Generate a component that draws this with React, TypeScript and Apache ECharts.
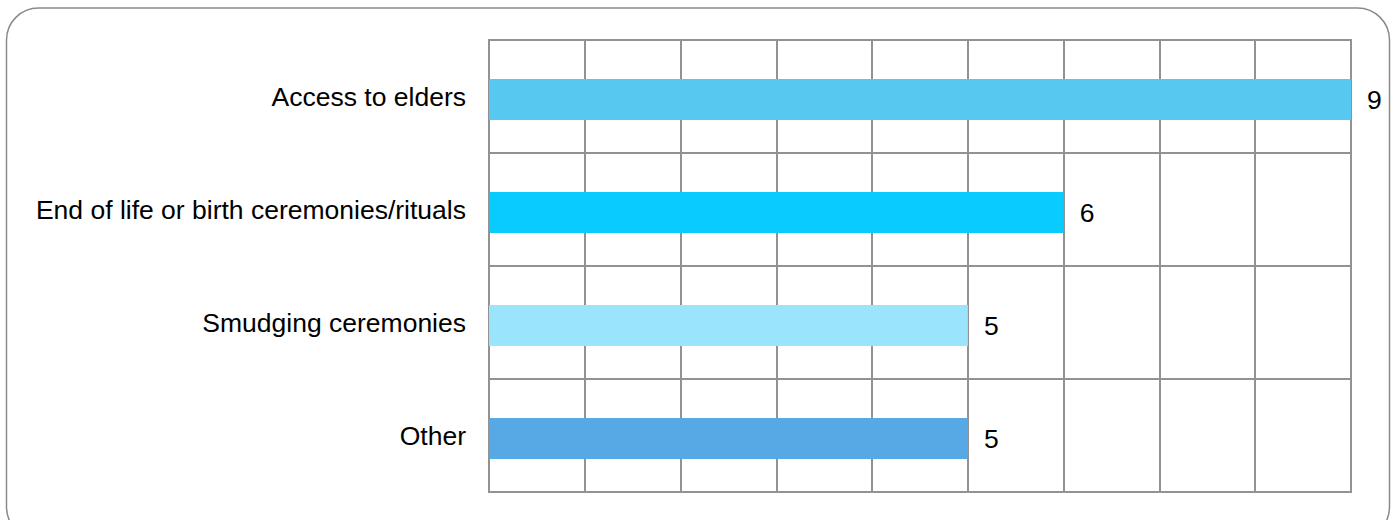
import React, { useEffect, useRef } from "react";
import * as echarts from "echarts";

const categories = [
  "Access to elders",
  "End of life or birth ceremonies/rituals",
  "Smudging ceremonies",
  "Other",
];
const values = [9, 6, 5, 5];
const barColors = ["#57C8EF", "#09CBFD", "#9AE4FD", "#56A9E4"];
const axisMin = 0;
const axisMax = 9;
const axisInterval = 1;

export default function App() {
  const ref = useRef<HTMLDivElement>(null);
  useEffect(() => {
    if (!ref.current) return;
    const chart = echarts.init(ref.current, null, { renderer: "svg" });
    const gridColor = "#929292";
    const font = "Liberation Sans, Arial, sans-serif";
    chart.setOption({
      animation: false,
      backgroundColor: "#ffffff",
      textStyle: { fontFamily: font },
      graphic: [
        {
          type: "rect",
          shape: { x: 6.5, y: 8, width: 1383, height: 531, r: 32 },
          style: { fill: "none", stroke: "#8a8a8a", lineWidth: 1.5 },
          z: 0,
        },
      ],
      grid: {
        left: 489,
        right: 1396 - 1351,
        top: 40,
        bottom: 520 - 492,
        show: true,
        borderColor: gridColor,
        borderWidth: 2,
        containLabel: false,
      },
      xAxis: {
        type: "value",
        min: axisMin,
        max: axisMax,
        interval: axisInterval,
        axisLabel: { show: false },
        axisTick: { show: false },
        axisLine: { show: false },
        splitLine: { show: true, lineStyle: { color: gridColor, width: 2 } },
      },
      yAxis: {
        type: "category",
        inverse: true,
        data: categories,
        axisTick: { show: false },
        axisLine: { show: true, lineStyle: { color: gridColor, width: 2 } },
        axisLabel: {
          color: "#000000",
          fontSize: 26.5,
          margin: 23,
          fontFamily: font,
        },
        splitLine: { show: true, lineStyle: { color: gridColor, width: 2 } },
      },
      series: [
        {
          type: "bar",
          data: [],
          barWidth: 6,
          barGap: "0%",
          silent: true,
        },
        {
          type: "bar",
          data: values.map((v, i) => ({
            value: v,
            itemStyle: { color: barColors[i] },
          })),
          barWidth: 41,
          barGap: "0%",
          label: {
            show: true,
            position: "right",
            distance: 16,
            color: "#000000",
            fontSize: 26.5,
            fontFamily: font,
          },
          z: 3,
        },
      ],
    });
    return () => chart.dispose();
  }, []);
  return (
    <div
      ref={ref}
      style={{ position: "absolute", left: 0, top: 0, width: 1396, height: 520 }}
    />
  );
}
